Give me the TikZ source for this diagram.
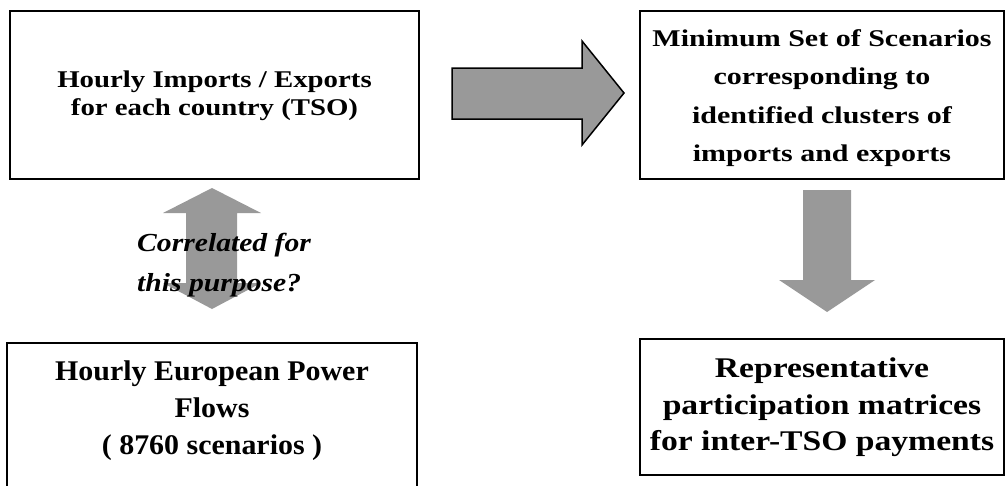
\documentclass[tikz,border=0pt]{standalone}
\usepackage{fontspec}
\setmainfont{Liberation Serif}
\usetikzlibrary{calc}
\definecolor{arrowgray}{RGB}{153,153,153}
\newcommand{\txtblock}[4]{\scalebox{#1}[1]{\fontsize{#2}{#3}\selectfont\setlength{\tabcolsep}{0pt}\begin{tabular}{c}#4\end{tabular}}}
\newcommand{\txtblockl}[4]{\scalebox{#1}[1]{\fontsize{#2}{#3}\selectfont\setlength{\tabcolsep}{0pt}\begin{tabular}{l}#4\end{tabular}}}
\begin{document}
\begin{tikzpicture}[x=1pt,y=-1pt,
  box/.style={draw=black, line width=2pt, fill=white, inner sep=0pt},
  btxt/.style={inner sep=0pt, font=\bfseries},
  itxt/.style={inner sep=0pt, font=\bfseries\itshape},
  blockarrow/.style={fill=arrowgray, draw=none},
  outlinedarrow/.style={fill=arrowgray, draw=black, line width=1.5pt, line join=miter},
]
\useasboundingbox (0,0) rectangle (1007,485);

% boxes
\node[box, minimum width=409pt, minimum height=168pt] (imp) at (214.5,95) {};
\node[box, minimum width=364pt, minimum height=168pt] (mss) at (822,95) {};
\node[box, minimum width=410pt, minimum height=147pt] (flows) at (212,416.5) {};
\node[box, minimum width=364pt, minimum height=136pt] (rpm) at (822,407) {};

% block arrows
\draw[outlinedarrow] (452,68) -- (582,68) -- (582,41) -- (624,93) -- (582,145) -- (582,119) -- (452,119) -- cycle;
\fill[blockarrow] (212,188) -- (261,213) -- (237,213) -- (237,283) -- (261,283) -- (212,309) -- (163,283) -- (186,283) -- (186,213) -- (163,213) -- cycle;
\fill[blockarrow] (803,190) -- (851,190) -- (851,280) -- (875,280) -- (827,312) -- (779,280) -- (803,280) -- cycle;

% texts
\node[btxt] (impt) at (214.5,96) {\txtblock{1.2}{24}{28}{Hourly Imports / Exports\\for each country (TSO)}};
\node[btxt] (msst) at (822,96.5) {\txtblock{1.25}{24}{38.5}{Minimum Set of Scenarios\\corresponding to\\identified clusters of\\imports and exports}};
\node[btxt] (flowst) at (212,410) {\txtblock{1.05}{28.5}{37}{Hourly European Power\\Flows\\( 8760 scenarios )}};
\node[btxt] (rpmt) at (822,407) {\txtblock{1.18}{28.5}{36.5}{Representative\\participation matrices\\for inter-TSO payments}};
\node[itxt, anchor=west] (corr) at (137,263) {\txtblockl{1.14}{26}{40}{Correlated for\\this purpose?}};
\end{tikzpicture}
\end{document}
